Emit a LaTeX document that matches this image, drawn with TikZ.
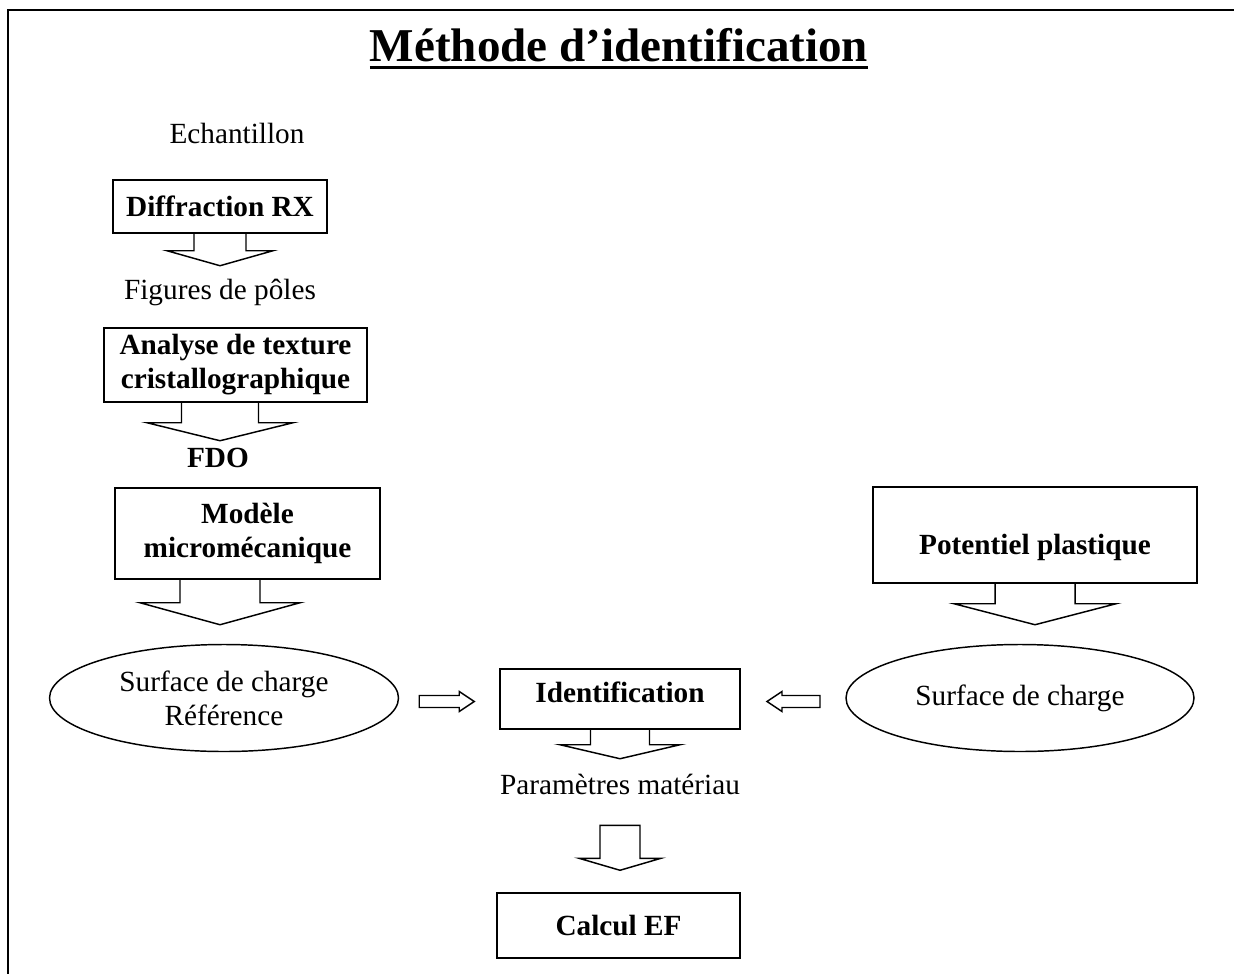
\documentclass[tikz,border=0pt]{standalone}
\usepackage{fontspec}
\setmainfont{Liberation Serif}
\usetikzlibrary{calc,shapes.geometric}

\newcommand{\upx}{0.41pt}
\newlength{\titlewd}
\newcommand{\titleline}[1]{\settowidth{\titlewd}{#1}\rlap{\rule[-3pt]{\titlewd}{1.2pt}}#1}
% down arrow hanging under a box: box, x shift, stem half width, stem length, head half width, head length
\newcommand{\drawcallout}[6]{%
  \draw[blk] ($(#1.south)+(#2-#3,0)$) -- ++(0,#4) -- ++(#3-#5,0)
    -- ++(#5,#6) -- ++(#5,-#6) -- ++(#3-#5,0) -- ++(0,-#4);}

\tikzset{
  txt/.style={font=\fontsize{12}{14}\selectfont, align=center, inner sep=0pt},
  bold/.style={font=\fontsize{12}{14}\selectfont\bfseries, align=center, inner sep=0pt},
  wh/.style 2 args={minimum width=#1*\upx, minimum height=#2*\upx},
  bx/.style={bold, draw, line width=0.6pt},
  ell/.style={txt, draw, ellipse, line width=0.6pt},
  blk/.style={line width=0.6pt, line join=miter},
  ttl/.style={font=\fontsize{19.3}{23}\selectfont\bfseries, inner sep=0pt},
}

\begin{document}
\begin{tikzpicture}[x=\upx, y=-\upx]
\useasboundingbox (0,0) rectangle (1234,974);
\draw[line width=0.85pt] (1234,10) -- (8,10) -- (8,974);

\node[ttl, anchor=base] (title) at (619,62) {\titleline{Méthode d’identification}};

\node[txt] (echant) at (237,133) {Echantillon};
\node[bx, wh={214}{53}, text height=11pt, text depth=3pt] (diffr) at (220,206.5) {Diffraction RX};
\node[txt] (figures) at (220,292) {Figures de pôles};
\node[bx, wh={263}{74}] (texture) at (235.5,365) {Analyse de texture\\cristallographique};
\node[bold] (fdo) at (218,458) {FDO};
\node[bx, wh={265}{91}] (modele) at (247.5,533.5) {Modèle\\micromécanique};
\node[bx, wh={324}{96}, text height=19pt, text depth=3pt] (potentiel) at (1035,535) {Potentiel plastique};

\node[ell, wh={349}{107}] (ellL) at (224,698) {Surface de charge\\Référence};
\node[bx, wh={240}{60}, text height=8.5pt, text depth=6pt] (ident) at (620,699) {Identification};
\node[ell, wh={348}{107}] (ellR) at (1020,698) {Surface de charge};

\node[txt] (param) at (620,784) {Paramètres matériau};
\node[bx, wh={243}{65}] (calcul) at (618.5,925.5) {Calcul EF};

\drawcallout{diffr}{0}{26}{17}{53}{15}
\drawcallout{texture}{-15.5}{38.5}{20}{73}{18}
\drawcallout{modele}{-27.5}{40}{23}{80}{22}
\drawcallout{potentiel}{0}{40}{20}{81}{21}
\drawcallout{ident}{0}{29.5}{15}{60}{14}

\draw[blk] ($(ellL.east)!0.5!(ident.west)+(25,3)$) -- ++(-15,-10) -- ++(0,4) -- ++(-40,0)
  -- ++(0,12) -- ++(40,0) -- ++(0,4) -- cycle;
\draw[blk] ($(ident.east)!0.5!(ellR.west)+(-26,3)$) -- ++(15,-10) -- ++(0,4) -- ++(38,0)
  -- ++(0,12) -- ++(-38,0) -- ++(0,4) -- cycle;
\draw[blk] ($(calcul.north)+(1.5,-22)$) -- ++(-41,-12) -- ++(21,0) -- ++(0,-33) -- ++(40,0)
  -- ++(0,33) -- ++(21,0) -- cycle;

\end{tikzpicture}
\end{document}
